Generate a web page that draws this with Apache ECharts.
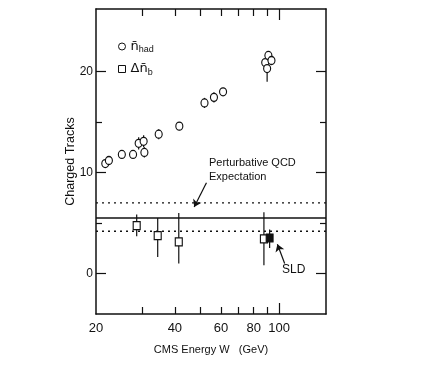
<!DOCTYPE html>
<html><head><meta charset="utf-8">
<script src="https://cdn.jsdelivr.net/npm/echarts@6/dist/echarts.min.js"></script>
<style>html,body{margin:0;padding:0;background:#fff}#c{width:436px;height:371px}</style>
</head><body><div id="c"></div>
<script>
// n_had (mean charged multiplicity) points
const hadW   = [21.7, 22.4, 25.1, 27.7, 30.6, 29.1, 30.4, 34.7, 41.6, 51.9, 56.4, 61.1, 88.5, 91.0, 93.5, 90.0];
const hadN   = [10.9, 11.2, 11.8, 11.8, 12.0, 12.9, 13.1, 13.8, 14.6, 16.9, 17.45, 18.0, 20.9, 21.6, 21.1, 20.3];
const hadErr = [0.3, 0.3, 0.3, 0.3, 0.5, 0.6, 0.6, 0.5, 0.4, 0.5, 0.5, 0.4, 0.4, 0.4, 0.4, 1.3];
// delta n_b points
const bW  = [28.6, 34.4, 41.4, 87.5];
const bN  = [4.75, 3.76, 3.14, 3.43];
const bLo = [3.7, 1.65, 1.0, 0.82];
const bHi = [5.85, 5.5, 6.0, 6.07];
// SLD point
const sldW = [92.0];
const sldN = [3.53];
const sldLo = [2.54];
const sldHi = [4.36];
// Perturbative QCD expectation lines
const qcdCentral = 5.5;
const qcdUpper = 7.0;
const qcdLower = 4.2;
// ticks
const xMin = 20, xMax = 151;
const xLabelVals = [20, 40, 60, 80, 100];
const xMinorTicks = [30, 40, 50, 60, 70, 80, 90];
const xLongTicks = [100];
const yMin = -4, yMax = 26.2;
const yLabelVals = [0, 10, 20];
const yMinorTicks = [5, 15];

const FONT = '"Liberation Sans", Arial, sans-serif';
const INK = '#111';

function xAx(pos, ticks, len, showLine, labels, extra) {
  return Object.assign({
    type: 'log', logBase: 10, min: xMin, max: xMax, gridIndex: 0, position: pos,
    axisLine: {show: showLine, onZero: false, lineStyle: {color: INK, width: 1.5}},
    axisTick: {show: true, inside: true, length: len, customValues: ticks, lineStyle: {color: INK, width: 1.2}},
    axisLabel: labels ? {show: true, customValues: labels, color: INK, fontFamily: FONT, fontSize: 13, margin: 8} : {show: false},
    splitLine: {show: false}, minorTick: {show: false}
  }, extra || {});
}
function yAx(pos, ticks, len, showLine, labels, extra) {
  return Object.assign({
    type: 'value', min: yMin, max: yMax, gridIndex: 0, position: pos,
    axisLine: {show: showLine, onZero: false, lineStyle: {color: INK, width: 1.5}},
    axisTick: {show: true, inside: true, length: len, customValues: ticks, lineStyle: {color: INK, width: 1.2}},
    axisLabel: labels ? {show: true, customValues: labels, color: INK, fontFamily: FONT, fontSize: 12, margin: 3} : {show: false},
    splitLine: {show: false}
  }, extra || {});
}

function errBar(params, api) {
  const p1 = api.coord([api.value(0), api.value(1)]);
  const p2 = api.coord([api.value(0), api.value(2)]);
  return {type: 'line', shape: {x1: p1[0], y1: p1[1], x2: p2[0], y2: p2[1]}, style: {stroke: INK, lineWidth: 1.2}};
}

const chart = echarts.init(document.getElementById('c'), null, {renderer: 'canvas'});
chart.setOption({
  animation: false,
  backgroundColor: '#fff',
  grid: {left: 96, right: 110, top: 9, bottom: 57, containLabel: false},
  xAxis: [
    xAx('bottom', xMinorTicks, 7, true, xLabelVals, {name: 'CMS Energy W   (GeV)', nameLocation: 'middle', nameGap: 30,
      nameMoveOverlap: false, nameTextStyle: {color: INK, fontFamily: FONT, fontSize: 11}}),
    xAx('bottom', xLongTicks, 11, false, null),
    xAx('top', xMinorTicks, 7, true, null),
    xAx('top', xLongTicks, 11, false, null)
  ],
  yAxis: [
    yAx('left', yLabelVals, 10, true, yLabelVals, {name: 'Charged Tracks', nameLocation: 'middle', nameGap: 19,
      nameMoveOverlap: false, nameTextStyle: {color: INK, fontFamily: FONT, fontSize: 12.5}}),
    yAx('left', yMinorTicks, 6, false, null),
    yAx('right', yLabelVals, 10, true, null),
    yAx('right', yMinorTicks, 6, false, null)
  ],
  legend: {
    orient: 'vertical', left: 113, top: 35, itemGap: 8, itemWidth: 7, itemHeight: 7,
    itemStyle: {borderWidth: 1},
    data: [{name: 'had', icon: 'circle'}, {name: 'b', icon: 'rect'}],
    formatter: function (n) { return n === 'had' ? '{n|n\u0304}{s|had}' : '{n|\u0394n\u0304}{s|b}'; },
    textStyle: {color: INK, fontFamily: FONT, fontSize: 13,
      rich: {n: {fontSize: 13, fontFamily: '"DejaVu Sans", sans-serif', color: INK}, s: {fontSize: 9, fontFamily: FONT, color: INK, padding: [7, 0, 0, 0]}}}
  },
  series: [
    {type: 'line', name: 'qcdC', data: [[xMin, qcdCentral], [xMax, qcdCentral]], symbol: 'none', silent: true,
      lineStyle: {color: INK, width: 1.6}, z: 1,
      markLine: {silent: true, symbol: ['none', 'arrow'], symbolSize: 7, label: {show: false},
        lineStyle: {color: INK, width: 1.2, type: 'solid'},
        data: [
          [{coord: [52.8, 9.0]}, {coord: [47.4, 6.6]}],
          [{coord: [105, 1.0]}, {coord: [98.5, 2.9]}]
        ]}},
    {type: 'line', name: 'qcdU', data: [[xMin, qcdUpper], [xMax, qcdUpper]], symbol: 'none', silent: true,
      lineStyle: {color: INK, width: 1.4, type: [2, 4]}, z: 1},
    {type: 'line', name: 'qcdL', data: [[xMin, qcdLower], [xMax, qcdLower]], symbol: 'none', silent: true,
      lineStyle: {color: INK, width: 1.4, type: [2, 4]}, z: 1},
    {type: 'custom', name: 'hadErr', renderItem: errBar, encode: {x: 0, y: [1, 2]}, z: 2,
      data: hadW.map((w, i) => [w, hadN[i] - hadErr[i], hadN[i] + hadErr[i]])},
    {type: 'custom', name: 'bErr', renderItem: errBar, encode: {x: 0, y: [1, 2]}, z: 2,
      data: bW.map((w, i) => [w, bLo[i], bHi[i]])},
    {type: 'custom', name: 'sldErr', renderItem: errBar, encode: {x: 0, y: [1, 2]}, z: 2,
      data: sldW.map((w, i) => [w, sldLo[i], sldHi[i]])},
    {type: 'scatter', name: 'had', symbol: 'circle', symbolSize: [7, 8], z: 5,
      itemStyle: {color: '#fff', borderColor: INK, borderWidth: 1.2, opacity: 1},
      data: hadW.map((w, i) => [w, hadN[i]])},
    {type: 'scatter', name: 'b', symbol: 'rect', symbolSize: [7, 8], z: 5,
      itemStyle: {color: '#fff', borderColor: INK, borderWidth: 1.2, opacity: 1},
      data: bW.map((w, i) => [w, bN[i]])},
    {type: 'scatter', name: 'SLD', symbol: 'rect', symbolSize: [7, 8], z: 5,
      itemStyle: {color: INK, borderColor: INK, borderWidth: 1, opacity: 1},
      data: sldW.map((w, i) => [w, sldN[i]])}
  ],
  graphic: [
    {type: 'text', left: 209, top: 156, style: {text: 'Perturbative QCD\nExpectation', fill: INK, font: '11px ' + FONT, lineHeight: 14}},
    {type: 'text', left: 282, top: 264, style: {text: 'SLD', fill: INK, font: '12px ' + FONT}}
  ]
});
</script>
</body></html>
